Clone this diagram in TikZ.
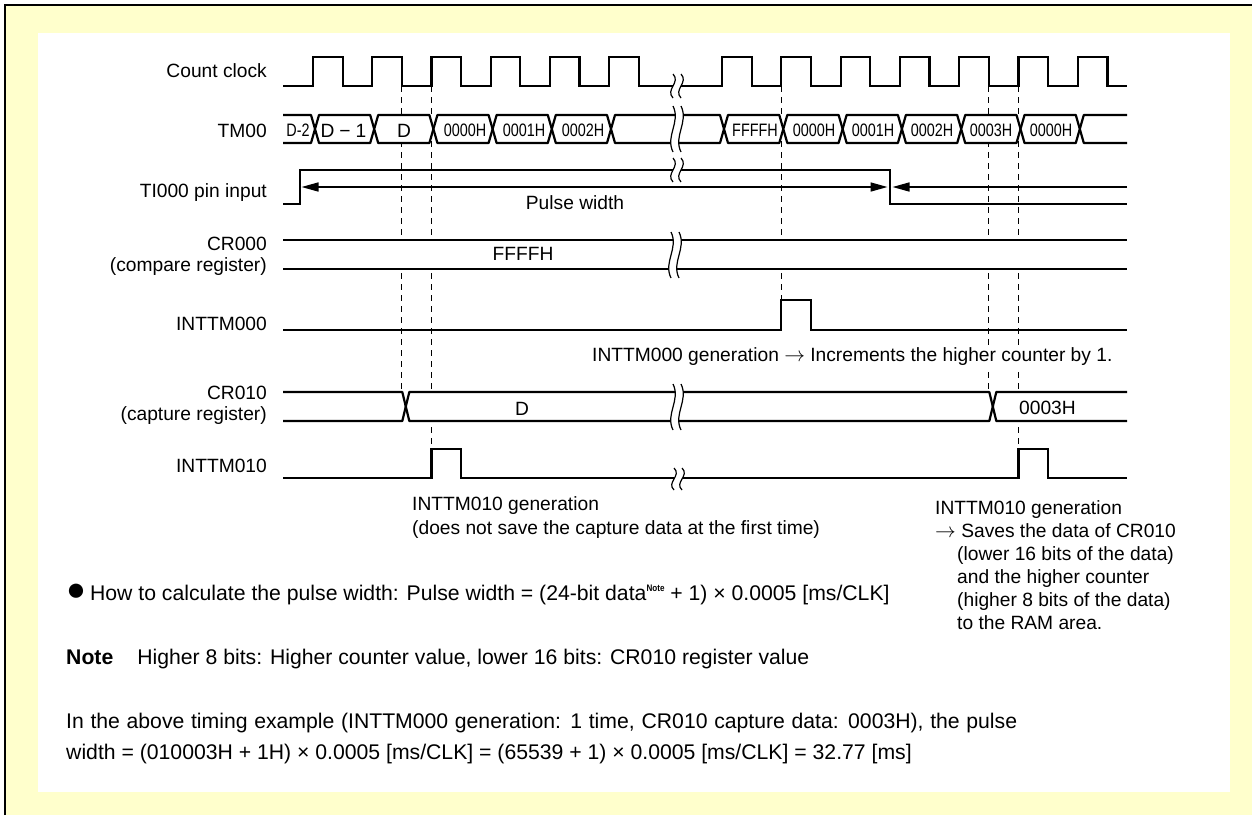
\documentclass[tikz,border=0pt]{standalone}
\usepackage{fontspec}
\setmainfont{Liberation Sans}
\usetikzlibrary{arrows.meta}
\definecolor{bgyellow}{RGB}{255,255,204}
\newcommand{\hexseg}[5]{%
  \filldraw[bus] ({#1+#5},#3) -- ({#2-#5},#3) -- (#2,{(#3+#4)/2}) -- ({#2-#5},#4) -- ({#1+#5},#4) -- (#1,{(#3+#4)/2}) -- cycle;}
\newcommand{\tbrk}[3]{%
  \fill[white] ({#1-4},#2) .. controls ({#1+4},{#2+0.35*(#3-#2)}) and ({#1-12},{#2+0.65*(#3-#2)}) .. ({#1-4},#3)
     -- ({#1+4},#3) .. controls ({#1-4},{#2+0.65*(#3-#2)}) and ({#1+12},{#2+0.35*(#3-#2)}) .. ({#1+4},#2) -- cycle;
  \draw[brkline] ({#1-4},#2) .. controls ({#1+4},{#2+0.35*(#3-#2)}) and ({#1-12},{#2+0.65*(#3-#2)}) .. ({#1-4},#3);
  \draw[brkline] ({#1+4},#2) .. controls ({#1+12},{#2+0.35*(#3-#2)}) and ({#1-4},{#2+0.65*(#3-#2)}) .. ({#1+4},#3);}
\newcommand{\cnd}[1]{\scalebox{0.8}[1]{#1}}
\newcommand{\rarr}{$\rightarrow$}
\begin{document}
\begin{tikzpicture}[x=1pt,y=-1pt,
  sig/.style={line width=2.2pt, line join=miter},
  bus/.style={line width=2.2pt, line join=round, fill=white},
  dsh/.style={line width=1.3pt, dash pattern=on 6pt off 5pt},
  lbl/.style={anchor=base east, inner sep=0pt},
  txt/.style={anchor=base west, inner sep=0pt},
  btxt/.style={anchor=base west, inner sep=0pt, font=\fontsize{21.2}{25}\selectfont},
  ctxt/.style={anchor=base, inner sep=0pt},
  tmtxt/.style={anchor=base, inner sep=0pt, font=\fontsize{18}{18}\selectfont},
  brkline/.style={line width=1.2pt},
  arr/.style={line width=1.6pt, -{Triangle[length=17pt,width=9pt]}},
  font=\fontsize{19.2}{23}\selectfont]
\useasboundingbox (0,0) rectangle (1252,815);
% background and frame
\fill[white] (0,0) rectangle (1252,815);
\fill[bgyellow] (5,5) rectangle (1252,815);
\fill[white] (38,33) rectangle (1230,792);
\draw[line width=2.5pt] (5,815) -- (5,5) -- (1252,5);
% dashed guide lines
\draw[dsh] (401.8,86) -- (401.8,392);
\draw[dsh] (431.4,86) -- (431.4,449);
\draw[dsh] (781.3,86) -- (781.3,300);
\draw[dsh] (988.8,86) -- (988.8,392);
\draw[dsh] (1018.5,86) -- (1018.5,449);
% count clock
\draw[sig] (283,86) foreach \r in {313,372.2,431.4,490.6,549.8,609,722,781.3,840.6,899.9,959.2,1018.5,1077.8} { -- (\r,86) -- (\r,57) -- (\r+29.6,57) -- (\r+29.6,86) } -- (1127,86);
% TM00 bus
\filldraw[bus] (283,115) -- (311,115) -- (315,129) -- (311,143) -- (283,143);
\hexseg{315}{374.2}{115}{143}{4}
\hexseg{374.2}{433.4}{115}{143}{4}
\hexseg{433.4}{492.6}{115}{143}{4}
\hexseg{492.6}{551.8}{115}{143}{4}
\hexseg{551.8}{611}{115}{143}{4}
\hexseg{611}{724}{115}{143}{4}
\hexseg{724}{783.3}{115}{143}{4}
\hexseg{783.3}{842.6}{115}{143}{4}
\hexseg{842.6}{901.9}{115}{143}{4}
\hexseg{901.9}{961.2}{115}{143}{4}
\hexseg{961.2}{1020.5}{115}{143}{4}
\hexseg{1020.5}{1079.8}{115}{143}{4}
\filldraw[bus] (1127,115) -- (1083.8,115) -- (1079.8,129) -- (1083.8,143) -- (1127,143);
% TI000 pin input
\draw[sig] (283,204) -- (300,204) -- (300,170) -- (890,170) -- (890,204) -- (1127,204);
\draw[line width=1.6pt, {Triangle[length=17pt,width=9pt]}-{Triangle[length=17pt,width=9pt]}] (301.5,187) -- (887.5,187);
\draw[arr] (1127,187) -- (892.5,187);
% CR000
\fill[white] (283,240) rectangle (1127,269);
\draw[sig] (283,240) -- (1127,240);
\draw[sig] (283,269) -- (1127,269);
% INTTM000
\draw[sig] (283,330) -- (781.3,330) -- (781.3,300) -- (810.9,300) -- (810.9,330) -- (1127,330);
% CR010 bus
\filldraw[bus] (283,392) -- (402.3,392) -- (405.8,406.5) -- (402.3,421) -- (283,421);
\hexseg{405.8}{992.8}{392}{421}{3.5}
\filldraw[bus] (1127,392) -- (996.3,392) -- (992.8,406.5) -- (996.3,421) -- (1127,421);
% INTTM010
\draw[sig] (283,478) -- (431.4,478) -- (431.4,449) -- (461,449) -- (461,478) -- (1018.5,478) -- (1018.5,449) -- (1048.1,449) -- (1048.1,478) -- (1127,478);
% breaks
\tbrk{677}{74}{98}
\tbrk{677}{106}{152}
\tbrk{677}{158}{182}
\tbrk{675}{232}{278}
\tbrk{677}{384}{430}
\tbrk{678}{468}{490}
% signal labels
\node[lbl] (lclk) at (267,77) {Count clock};
\node[lbl] (ltm) at (267,137) {TM00};
\node[lbl] (lti) at (267,197) {TI000 pin input};
\node[lbl] (lcr0a) at (267,250) {CR000};
\node[lbl] (lcr0b) at (267,271) {(compare register)};
\node[lbl] (lint0) at (267,330) {INTTM000};
\node[lbl] (lcr1a) at (267,399) {CR010};
\node[lbl] (lcr1b) at (267,420) {(capture register)};
\node[lbl] (lint1) at (267,472) {INTTM010};
% TM00 values
\node[tmtxt] (v0) at (298,136) {\cnd{D-2}};
\node[ctxt] (v1) at (343.5,137) {D\hspace{5pt}−\hspace{5pt}1};
\node[ctxt] (v2) at (404,137) {D};
\node[tmtxt] (v3) at (465,136) {\cnd{0000H}};
\node[tmtxt] (v4) at (524,136) {\cnd{0001H}};
\node[tmtxt] (v5) at (583,136) {\cnd{0002H}};
\node[tmtxt] (v6) at (755,136) {\cnd{FFFFH}};
\node[tmtxt] (v7) at (814,136) {\cnd{0000H}};
\node[tmtxt] (v8) at (873,136) {\cnd{0001H}};
\node[tmtxt] (v9) at (932,136) {\cnd{0002H}};
\node[tmtxt] (v10) at (991,136) {\cnd{0003H}};
\node[tmtxt] (v11) at (1051,136) {\cnd{0000H}};
% in-diagram texts
\node[ctxt] (pw) at (575,209) {Pulse width};
\node[ctxt] (cr0v) at (523,260) {FFFFH};
\node[txt, fill=white, inner ysep=2pt] (int0txt) at (592,361) {INTTM000 generation \rarr\ Increments the higher counter by 1.};
\node[ctxt] (cr1v) at (522,415) {D};
\node[txt] (cr1v2) at (1019,414) {0003H};
\node[txt] (g1a) at (412,510) {INTTM010 generation};
\node[txt] (g1b) at (412,534) {(does not save the capture data at the first time)};
\node[txt] (g2a) at (935,514) {INTTM010 generation};
\node[txt] (g2b) at (935,537) {\rarr\ Saves the data of CR010};
\node[txt] (g2c) at (957,560) {(lower 16 bits of the data)};
\node[txt] (g2d) at (957,583) {and the higher counter};
\node[txt] (g2e) at (957,606) {(higher 8 bits of the data)};
\node[txt] (g2f) at (957,629) {to the RAM area.};
% bottom notes
\node[btxt] (calc) at (66,600) {{\fontsize{33}{33}\selectfont ●}\hspace{4pt}How to calculate the pulse width: Pulse width = (24-bit data\raisebox{9pt}{\fontsize{9.5}{9.5}\selectfont\bfseries\scalebox{0.85}[1]{Note}} + 1) × 0.0005 [ms/CLK]};
\node[btxt] (note) at (66,664) {\textbf{Note}\hspace{24pt}Higher 8 bits: Higher counter value, lower 16 bits: CR010 register value};
\node[btxt] (ex1) at (66,728) {\makebox[951pt][s]{In the above timing example (INTTM000 generation: 1 time, CR010 capture data: 0003H), the pulse}};
\node[btxt] (ex2) at (66,759) {width = (010003H + 1H) × 0.0005 [ms/CLK] = (65539 + 1) × 0.0005 [ms/CLK] = 32.77 [ms]};
\end{tikzpicture}
\end{document}
